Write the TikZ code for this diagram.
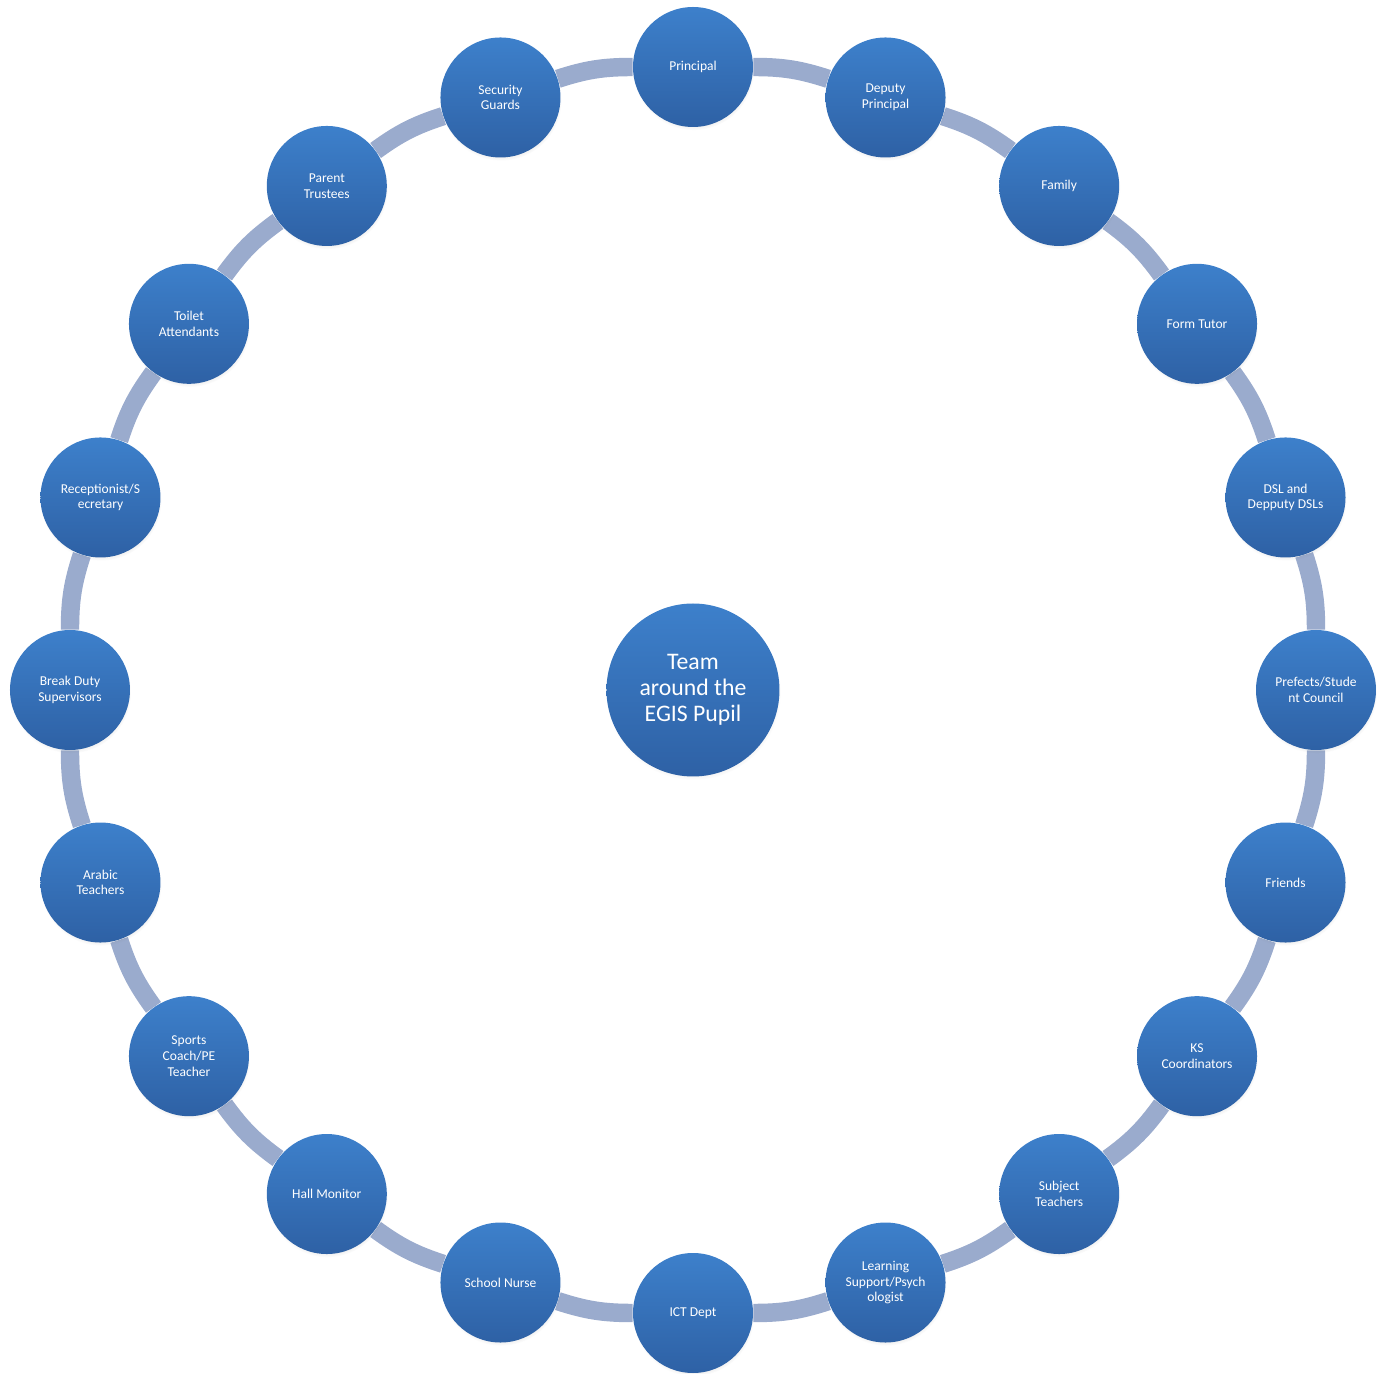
\documentclass[tikz,border=0pt]{standalone}
\usepackage{fontspec}
\setmainfont{Carlito}
\usetikzlibrary{shadows,backgrounds}
\definecolor{node top}{RGB}{61,128,203}
\definecolor{node bottom}{RGB}{46,97,165}
\definecolor{ring color}{RGB}{154,171,205}

\begin{document}
\begin{tikzpicture}[
	member/.style={circle, minimum size=2.4cm, inner sep=0pt, align=center,
		top color=node top, bottom color=node bottom, text=white,
		font=\fontsize{7.7}{8.9}\selectfont,
		circular drop shadow={opacity=0.25, shadow xshift=0.3pt, shadow yshift=-1.5pt, shadow scale=1.01}},
	pupil/.style={member, minimum size=3.46cm, font=\fontsize{13.5}{14.8}\selectfont},
	ring/.style={ring color, line width=10.5pt}]

\useasboundingbox (-13.86,-13.68) rectangle (13.84,13.8);

% Centre
\node (pupil) at (0,0) [pupil] {Team\\around the\\EGIS Pupil};

% Members, clockwise from the top
\foreach \lbl [count=\i] in {
    Principal, {Deputy\\Principal}, Family, Form Tutor,
    {DSL and\\Depputy DSLs}, {Prefects/Stude\\nt Council}, Friends,
    {KS\\Coordinators}, {Subject\\Teachers}, {Learning\\Support/Psych\\ologist},
    ICT Dept, School Nurse, Hall Monitor, {Sports\\Coach/PE\\Teacher},
    {Arabic\\Teachers}, {Break Duty\\Supervisors}, {Receptionist/S\\ecretary},
    {Toilet\\Attendants}, {Parent\\Trustees}, {Security\\Guards}} {
    \node (m\i) at ({90-18*(\i-1)}:12.46) [member] {\lbl};
}

% Ring
\begin{scope}[on background layer]
\foreach \i in {1,...,20} {
    \pgfmathtruncatemacro\j{mod(\i,20)+1}
    \draw [ring] (m\i) to[bend left=9] (m\j);
}
\end{scope}

\end{tikzpicture}
\end{document}
